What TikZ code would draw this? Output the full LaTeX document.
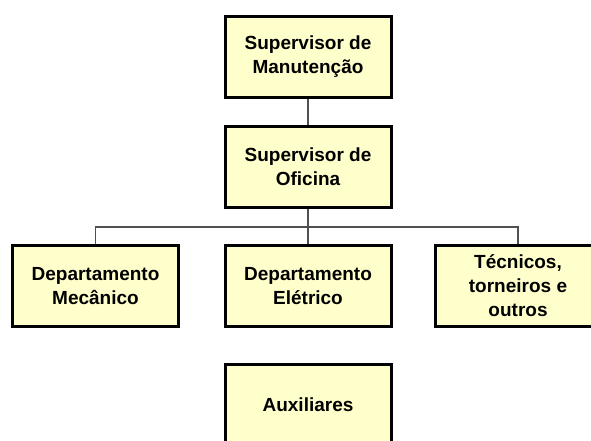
\documentclass[tikz,border=0pt]{standalone}
\usepackage{fontspec}
\setmainfont{Liberation Sans}
\begin{document}
\begin{tikzpicture}[x=1pt,y=-1pt,
  orgbox/.style={draw=black, line width=3pt, fill=boxfill, minimum width=166pt, minimum height=81pt,
    align=center, inner sep=0pt, font=\fontsize{19}{24}\selectfont\bfseries},
  link/.style={draw=linkgray, line width=1.2pt}]
\definecolor{boxfill}{HTML}{FFFFCC}
\definecolor{linkgray}{HTML}{505050}
\useasboundingbox (0,0) rectangle (591,441);
\clip (0,0) rectangle (591,441);
\fill[white] (0,0) rectangle (591,441);
\node[orgbox] (sm) at (308,57) {Supervisor de\\Manutenção};
\node[orgbox] (so) at (308,167) {Supervisor de\\Oficina};
\node[orgbox] (dm) at (95.5,286) {Departamento\\Mecânico};
\node[orgbox] (de) at (308,286) {Departamento\\Elétrico};
\node[orgbox] (tc) at (518,286) {Técnicos,\\torneiros e\\outros};
\node[orgbox] (au) at (308,405) {Auxiliares};
\coordinate (j) at (308,227);
\draw[link] (sm.south) -- (so.north);
\draw[link] (so.south) -- (de.north);
\draw[link] (dm.north) -- (dm.north |- j) -- (tc.north |- j) -- (tc.north);
\end{tikzpicture}
\end{document}
